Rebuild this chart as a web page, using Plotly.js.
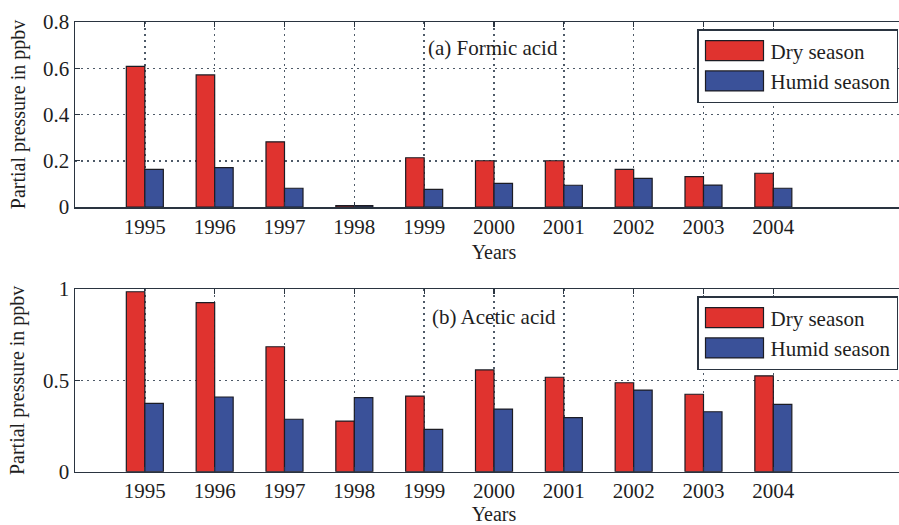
<!DOCTYPE html>
<html>
<head>
<meta charset="utf-8">
<script src="https://cdn.plot.ly/plotly-3.0.1.min.js"></script>
<style>
html,body{margin:0;padding:0;overflow:hidden;background:#fff;width:899px;height:525px;}
#chart{width:915px;height:525px;}
</style>
</head>
<body>
<div id="chart"></div>
<script>
var years = [1995, 1996, 1997, 1998, 1999, 2000, 2001, 2002, 2003, 2004];
var formicDry   = [0.608, 0.571, 0.282, 0.006, 0.213, 0.200, 0.200, 0.163, 0.131, 0.146];
var formicHumid = [0.163, 0.170, 0.081, 0.006, 0.076, 0.102, 0.094, 0.124, 0.095, 0.081];
var aceticDry   = [0.985, 0.925, 0.684, 0.277, 0.414, 0.557, 0.517, 0.487, 0.424, 0.525];
var aceticHumid = [0.374, 0.409, 0.287, 0.405, 0.232, 0.343, 0.296, 0.447, 0.328, 0.369];
var seriesNames = ["Dry season", "Humid season"];
var panelLabels = ["(a) Formic acid", "(b) Acetic acid"];

var RED = "#e0332f", BLUE = "#3a5199", EDGE = "#1c1c24";
var FONT = "Liberation Serif, Times New Roman, serif";
var TXT = "#1e1e1e";
var W = 915, H = 525;

function bar(x, y, name, color, xa, ya, legend, show) {
  return {type: "bar", x: x, y: y, name: name, xaxis: xa, yaxis: ya,
    legend: legend, showlegend: show,
    marker: {color: color, line: {color: EDGE, width: 1.2}}};
}
var traces = [
  bar(years, formicDry, seriesNames[0], RED, "x", "y", "legend", true),
  bar(years, formicHumid, seriesNames[1], BLUE, "x", "y", "legend", true),
  bar(years, aceticDry, seriesNames[0], RED, "x2", "y2", "legend2", true),
  bar(years, aceticHumid, seriesNames[1], BLUE, "x2", "y2", "legend2", true)
];

var GRIDDASH = "1.5px,4.5px";
function xax(anchor) {
  return {anchor: anchor, domain: [75 / W, 913 / W], range: [1994, 2006],
    tickvals: years, ticktext: years.map(String), ticks: "inside", ticklen: 5,
    tickcolor: "#2a3440", tickwidth: 1.3,
    showline: true, linecolor: "#2a3440", linewidth: 1.5, mirror: "ticks",
    showgrid: true, gridcolor: "#4e5a68", griddash: GRIDDASH, gridwidth: 1.5,
    zeroline: false, tickfont: {family: FONT, size: 21, color: TXT},
    title: {text: "Years", font: {family: FONT, size: 20, color: TXT}, standoff: 7},
    automargin: true, layer: "above traces"};
}
function yax(anchor, dom, range, dtick) {
  return {anchor: anchor, domain: dom, range: range, dtick: dtick, tick0: 0,
    ticks: "inside", ticklen: 5, tickcolor: "#2a3440",
    showline: true, linecolor: "#2a3440", linewidth: 1.5, mirror: false,
    showgrid: true, gridcolor: "#4e5a68", griddash: GRIDDASH, gridwidth: 1.5,
    zeroline: false, tickfont: {family: FONT, size: 21, color: TXT},
    title: {text: "Partial pressure in ppbv", font: {family: FONT, size: 20, color: TXT}},
    automargin: false, layer: "above traces"};
}

var legendStyle = function (ytop) {
  return {x: 697 / W, y: ytop, xanchor: "left", yanchor: "top",
    bgcolor: "#ffffff", bordercolor: "#2a3440", borderwidth: 1.5,
    font: {family: FONT, size: 21, color: TXT}, itemwidth: 62,
    tracegroupgap: 0, traceorder: "normal"};
};

var layout = {
  width: W, height: H,
  margin: {l: 0, r: 0, t: 0, b: 0, autoexpand: false},
  paper_bgcolor: "#ffffff", plot_bgcolor: "#ffffff",
  barmode: "group", bargap: 0.47, bargroupgap: 0,
  font: {family: FONT, color: TXT},
  xaxis: xax("y"),
  yaxis: yax("x", [(H - 207) / H, (H - 22) / H], [0, 0.8], 0.2),
  xaxis2: xax("y2"),
  yaxis2: yax("x2", [(H - 471.7) / H, (H - 289) / H], [0, 1], 0.5),
  legend: legendStyle((H - 29) / H),
  legend2: legendStyle((H - 296) / H),
  annotations: [
    {text: panelLabels[0], xref: "paper", yref: "paper", x: 493 / W, y: (H - 48) / H,
     xanchor: "center", yanchor: "middle", showarrow: false,
     font: {family: FONT, size: 21, color: TXT}},
    {text: panelLabels[1], xref: "paper", yref: "paper", x: 494 / W, y: (H - 317) / H,
     xanchor: "center", yanchor: "middle", showarrow: false,
     font: {family: FONT, size: 21, color: TXT}}
  ]
};

Plotly.newPlot("chart", traces, layout, {staticPlot: true, displayModeBar: false}).then(function (gd) {
  var paths = gd.querySelectorAll("g[class^='legend'] .legendpoints path");
  paths.forEach(function (p) {
    p.setAttribute("d", "M29,10H-29V-10H29Z");
  });
});
</script>
</body>
</html>
